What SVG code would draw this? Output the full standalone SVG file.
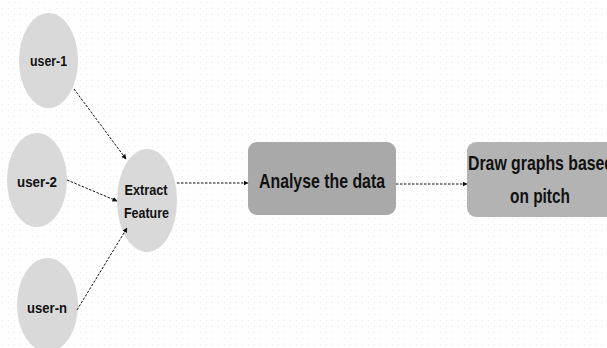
<svg xmlns="http://www.w3.org/2000/svg" width="607" height="348" viewBox="0 0 607 348">
<style>
.el{fill:#d9d9d9}
.bx{stroke:none}
.t{font-family:"Liberation Sans",Arial,sans-serif;font-weight:bold;fill:#111;text-anchor:middle}
.s{font-size:15px}
.b{font-size:21px}
.c{fill:none;stroke:#111;stroke-width:1;stroke-dasharray:2.5 1.5}
</style>
<defs>
<pattern id="grid" width="6" height="6" patternUnits="userSpaceOnUse">
<rect x="2" y="2" width="1" height="1" fill="#e8e8e8"/>
</pattern>
<marker id="ah" viewBox="0 0 10 10" refX="9" refY="5" markerWidth="5" markerHeight="5" orient="auto" markerUnits="userSpaceOnUse">
<path d="M0,0 L10,5 L0,10 z" fill="#111"/>
</marker>
</defs>
<rect width="607" height="348" fill="#fff"/>
<rect width="607" height="348" fill="url(#grid)"/>
<g id="user-1"><ellipse class="el" cx="48.5" cy="60.5" rx="29.5" ry="47.5"/><text class="t s" x="48.5" y="66" textLength="37" lengthAdjust="spacingAndGlyphs">user-1</text></g>
<g id="user-2"><ellipse class="el" cx="37" cy="180" rx="30" ry="47"/><text class="t s" x="37" y="187" textLength="40" lengthAdjust="spacingAndGlyphs">user-2</text></g>
<g id="user-n"><ellipse class="el" cx="47.5" cy="305" rx="30.5" ry="47"/><text class="t s" x="47" y="313" textLength="40" lengthAdjust="spacingAndGlyphs">user-n</text></g>
<g id="extract"><ellipse class="el" cx="147" cy="200.5" rx="30" ry="51.5"/><text class="t s" x="146" y="195" textLength="43" lengthAdjust="spacingAndGlyphs">Extract</text><text class="t s" x="146.5" y="218" textLength="45" lengthAdjust="spacingAndGlyphs">Feature</text></g>
<g id="analyse"><rect class="bx" x="248" y="142" width="148" height="73" rx="9" fill="#a9a9a9"/><text class="t b" x="322" y="187.5" textLength="126" lengthAdjust="spacingAndGlyphs">Analyse the data</text></g>
<g id="draw"><rect class="bx" x="467" y="142" width="150" height="75" rx="9" fill="#b3b3b3"/><text class="t b" x="541" y="170" textLength="146" lengthAdjust="spacingAndGlyphs">Draw graphs based</text><text class="t b" x="540" y="203" textLength="60" lengthAdjust="spacingAndGlyphs">on pitch</text></g>
<g id="connectors">
<line class="c" x1="74" y1="89" x2="126" y2="159" marker-end="url(#ah)"/>
<line class="c" x1="67" y1="180" x2="117" y2="201" marker-end="url(#ah)"/>
<line class="c" x1="77" y1="310" x2="127" y2="228" marker-end="url(#ah)"/>
<line class="c" x1="177" y1="183" x2="248" y2="183" marker-end="url(#ah)"/>
<line class="c" x1="396" y1="184" x2="467" y2="184" marker-end="url(#ah)"/>
</g>
</svg>
